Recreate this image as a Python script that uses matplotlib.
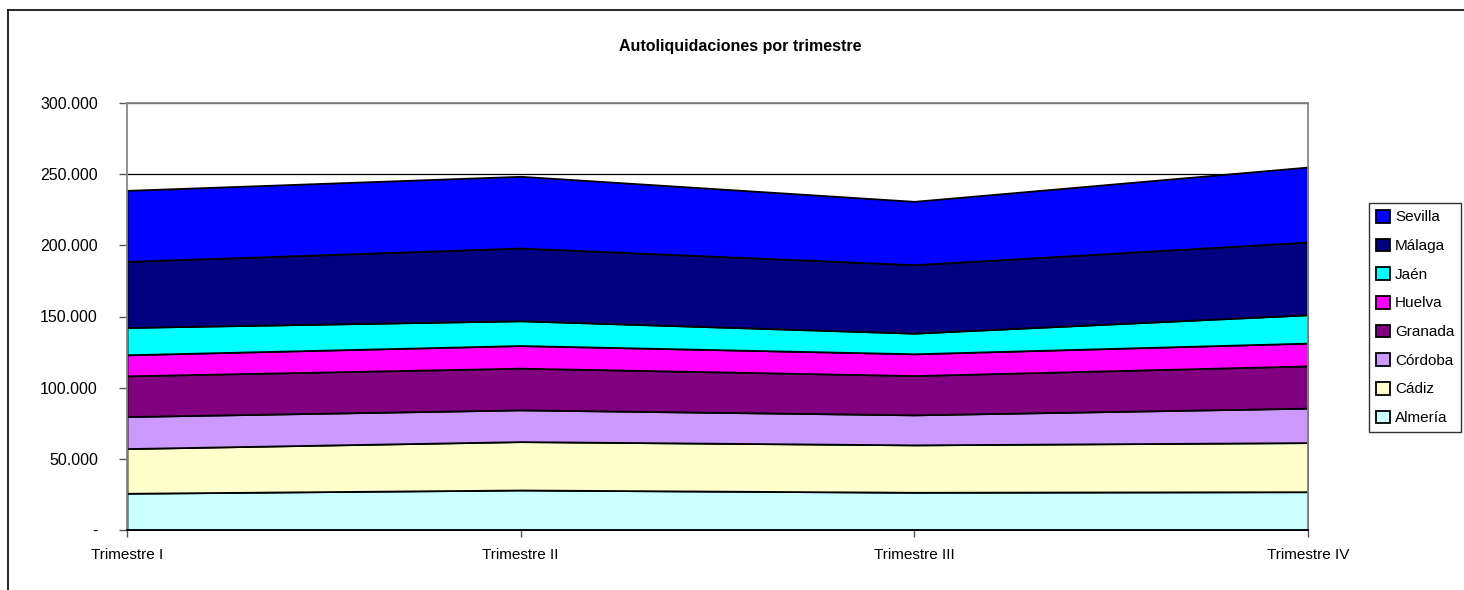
import matplotlib
matplotlib.use('Agg')
import matplotlib.pyplot as plt
from matplotlib.lines import Line2D

# datos (miles de euros aprox.)
trimestres = ['Trimestre I', 'Trimestre II', 'Trimestre III', 'Trimestre IV']
provincias = ['Almería', 'Cádiz', 'Córdoba', 'Granada', 'Huelva', 'Jaén', 'Málaga', 'Sevilla']
almeria = [25800, 28100, 26500, 26900]
cadiz = [31400, 34000, 33300, 34500]
cordoba = [22500, 22300, 21100, 24200]
granada = [28600, 29300, 27600, 29700]
huelva = [14800, 15900, 15300, 16000]
jaen = [19200, 17400, 14500, 19900]
malaga = [46400, 51100, 48100, 51100]
sevilla = [49900, 50400, 44500, 52700]
colores = ['#CCFFFF', '#FFFFCC', '#CC99FF', '#800080', '#FF00FF', '#00FFFF', '#000080', '#0000FF']
yticks = [0, 50000, 100000, 150000, 200000, 250000, 300000]
yticklabels = ['-', '50.000', '100.000', '150.000', '200.000', '250.000', '300.000']

plt.rcParams['font.family'] = ['Liberation Sans', 'DejaVu Sans']

fig = plt.figure(figsize=(14.64, 5.9), dpi=100)
ax = fig.add_axes([127 / 1464, 1 - 530 / 590, (1308 - 127) / 1464, (530 - 103) / 590])

x = list(range(len(trimestres)))
series = [almeria, cadiz, cordoba, granada, huelva, jaen, malaga, sevilla]
ax.stackplot(x, *series, colors=colores, labels=provincias,
             edgecolor='black', linewidth=1.3, zorder=2)

ax.set_xlim(0, 3)
ax.set_ylim(0, 300000)
ax.set_yticks(yticks)
ax.set_yticklabels(yticklabels, fontsize=11.5)
ax.set_xticks(x)
ax.set_xticklabels(trimestres, fontsize=11)
ax.tick_params(axis='y', length=6, width=1, color='#555555', pad=15)
ax.tick_params(axis='x', length=5, width=1, color='#555555', pad=8)

ax.grid(axis='y', color='black', linewidth=0.9, zorder=1)
ax.set_axisbelow(True)
for s in ['top', 'right', 'left']:
    ax.spines[s].set_color('#888888')
    ax.spines[s].set_linewidth(1.3)
ax.spines['bottom'].set_color('black')
ax.spines['bottom'].set_linewidth(1.3)

fig.text(740 / 1464, 1 - 46 / 590, 'Autoliquidaciones por trimestre', ha='center', va='center',
         fontsize=11.5, fontweight='bold')

handles, labels = ax.get_legend_handles_labels()
leg = fig.legend(handles[::-1], labels[::-1], loc='upper left',
                 bbox_to_anchor=(1369 / 1464, 1 - 203 / 590), fontsize=11,
                 frameon=True, fancybox=False, edgecolor='black', handlelength=0.9,
                 handleheight=0.9, handletextpad=0.35, labelspacing=0.92,
                 borderpad=0.45, borderaxespad=0)
leg.get_frame().set_linewidth(1.0)

# marco exterior (solo arriba e izquierda visibles)
fig.add_artist(Line2D([8 / 1464, 8 / 1464], [0, 1 - 9.5 / 590], transform=fig.transFigure,
                      color='black', linewidth=1.2))
fig.add_artist(Line2D([8 / 1464, 1], [1 - 9.5 / 590, 1 - 9.5 / 590], transform=fig.transFigure,
                      color='black', linewidth=1.2))

fig.savefig('out.png', dpi=100)
